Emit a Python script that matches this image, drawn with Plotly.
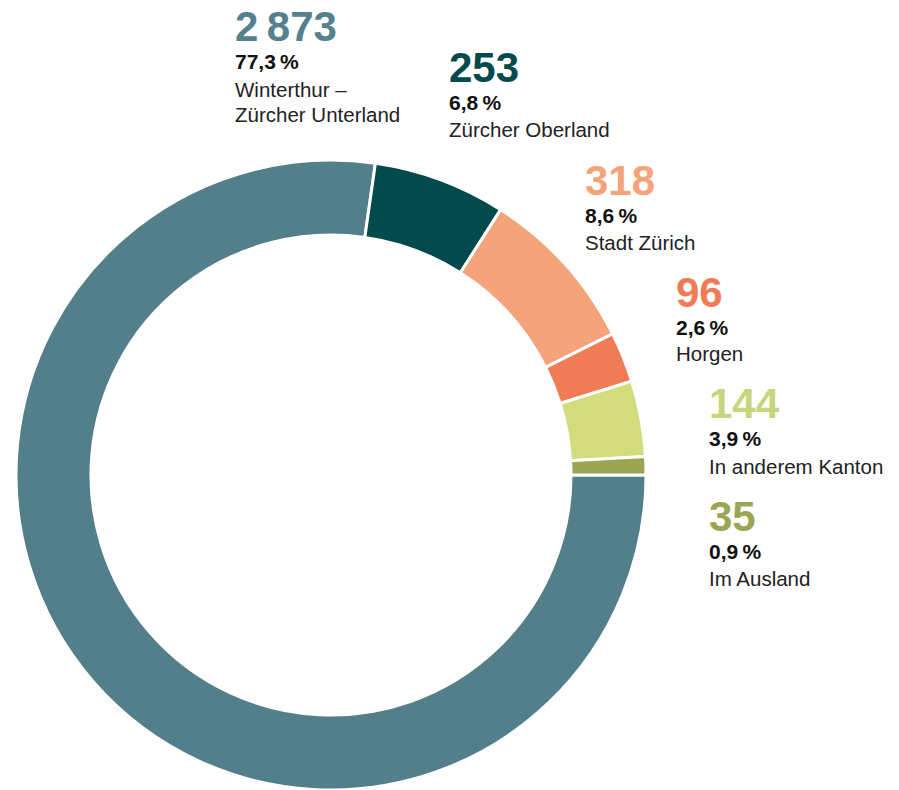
import plotly.graph_objects as go

# ---- data (clockwise order starting at 3 o'clock) ----
categories = ["Winterthur –<br>Zürcher Unterland", "Zürcher Oberland", "Stadt Zürich",
              "Horgen", "In anderem Kanton", "Im Ausland"]
values = [2873, 253, 318, 96, 144, 35]
value_labels = ["2\u2009873", "253", "318", "96", "144", "35"]
percent_labels = ["77,3\u2009%", "6,8\u2009%", "8,6\u2009%", "2,6\u2009%", "3,9\u2009%", "0,9\u2009%"]

# ---- styles ----
slice_colors = ["#537f8b", "#024a4b", "#f4a37b", "#ef7c56", "#d2dc7d", "#9ba552"]
number_colors = ["#55818c", "#024a4b", "#f4a37b", "#ef7c56", "#c9d57a", "#9ba552"]

# label anchor positions in pixels: (left x, centre y of the big number)
label_pos = [(233, 27), (447, 67), (583, 180), (674, 292), (707, 404), (707, 516)]

W, H = 899, 790
FONT = "Liberation Sans, Arial, Helvetica, sans-serif"

cx, cy, r = 331, 475, 315

fig = go.Figure(go.Pie(
    labels=categories,
    values=values,
    sort=False,
    direction="clockwise",
    rotation=90,
    hole=0.762,
    marker=dict(colors=slice_colors, line=dict(color="white", width=3)),
    textinfo="none",
    hoverinfo="label+value+percent",
    showlegend=False,
    domain=dict(x=[(cx - r) / W, (cx + r) / W], y=[0, 2 * r / H]),
))

annotations = []
for cat, vl, pl, col, (px, py) in zip(categories, value_labels, percent_labels,
                                      number_colors, label_pos):
    def add(text, dy, size, color, bold):
        annotations.append(dict(
            x=px / W, y=1 - (py + dy) / H, xref="paper", yref="paper",
            xanchor="left", yanchor="middle", showarrow=False,
            text=("<b>%s</b>" % text) if bold else text,
            font=dict(family=FONT, size=size, color=color),
            align="left",
        ))
    add(vl, 0, 42, col, True)
    add(pl, 35, 21, "#111111", True)
    lines = cat.split("<br>")
    for i, ln in enumerate(lines):
        add(ln, 62 + 25 * i, 20.5, "#222222", False)

fig.update_layout(
    width=W, height=H,
    margin=dict(l=0, r=0, t=0, b=0),
    paper_bgcolor="white", plot_bgcolor="white",
    annotations=annotations,
)

fig.write_html("out.html", config={"displayModeBar": False},
               post_script="document.body.style.margin='0';document.body.style.overflow='hidden';")
